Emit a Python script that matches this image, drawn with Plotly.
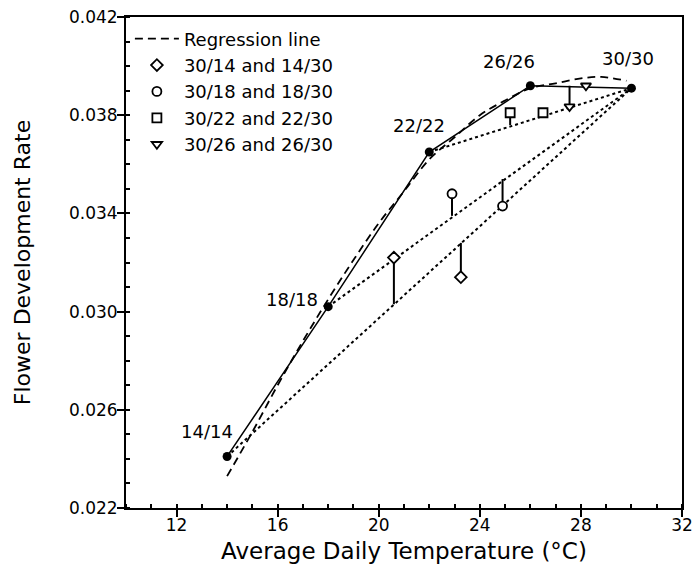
import plotly.graph_objects as go

# Equal day/night regimes (filled points, joined by solid line)
main_x = [14, 18, 22, 26, 30]
main_y = [0.0241, 0.0302, 0.0365, 0.0392, 0.0391]
main_labels = ["14/14", "18/18", "22/22", "26/26", "30/30"]
label_x = [13.2, 16.55, 21.6, 25.15, 29.85]
label_y = [0.0251, 0.0305, 0.0376, 0.0402, 0.0403]

# Regression line
reg_x = [14, 15, 16, 17, 18, 19, 20, 21, 22, 23, 24, 25, 26, 27, 28, 28.8, 29.8]
reg_y = [0.0233, 0.0251, 0.0270, 0.0288, 0.0305, 0.0321, 0.0336, 0.0349, 0.0362,
         0.0371, 0.0380, 0.0386, 0.0391, 0.0393, 0.0395, 0.03956, 0.0394]

# Alternating regimes: observed value and value on the connecting line
diam_x = [20.6, 23.25]
diam_y = [0.0322, 0.0314]
diam_ref = [0.0303, 0.0328]

circ_x = [22.9, 24.9]
circ_y = [0.0348, 0.0343]
circ_ref = [0.0339, 0.0354]

sq_x = [25.2, 26.5]
sq_y = [0.0381, 0.0381]
sq_ref = [0.0376, None]

tri_x = [27.55, 28.2]
tri_y = [0.03835, 0.0392]
tri_ref = [0.0392, None]

legend_names = ["Regression line", "30/14 and 14/30", "30/18 and 18/30",
                "30/22 and 22/30", "30/26 and 26/30"]

x_ticks = [12, 16, 20, 24, 28, 32]
y_ticks = [0.022, 0.026, 0.030, 0.034, 0.038, 0.042]

FONT = "DejaVu Sans"
fig = go.Figure()

# dotted connecting lines from 14/14, 18/18, 22/22 to 30/30
for i in range(3):
    fig.add_trace(go.Scatter(
        x=[main_x[i], main_x[-1]], y=[main_y[i], main_y[-1]], mode="lines",
        line=dict(color="black", width=2, dash="3px,3px"),
        showlegend=False, hoverinfo="skip"))

# vertical drop lines
dx, dy = [], []
for xs, ys, rs in [(diam_x, diam_y, diam_ref), (circ_x, circ_y, circ_ref),
                   (sq_x, sq_y, sq_ref), (tri_x, tri_y, tri_ref)]:
    for xv, yv, rv in zip(xs, ys, rs):
        if rv is not None:
            dx += [xv, xv, None]
            dy += [yv, rv, None]
fig.add_trace(go.Scatter(x=dx, y=dy, mode="lines",
                         line=dict(color="black", width=2),
                         showlegend=False, hoverinfo="skip"))

# regression line
fig.add_trace(go.Scatter(x=reg_x, y=reg_y, mode="lines", name=legend_names[0],
                         line=dict(color="black", width=1.8, dash="8px,5px", shape="spline")))

# solid line through equal regimes
fig.add_trace(go.Scatter(x=main_x, y=main_y, mode="lines+markers",
                         line=dict(color="black", width=1.5),
                         marker=dict(color="black", size=9, symbol="circle"),
                         showlegend=False))

for xs, ys, sym, nm in [(diam_x, diam_y, "diamond", legend_names[1]),
                        (circ_x, circ_y, "circle", legend_names[2]),
                        (sq_x, sq_y, "square", legend_names[3]),
                        (tri_x, tri_y, "triangle-down", legend_names[4])]:
    fig.add_trace(go.Scatter(x=xs, y=ys, mode="markers", name=nm,
                             marker=dict(symbol=sym, size=9, color="white",
                                         line=dict(color="black", width=1.8))))

for lx, ly, t in zip(label_x, label_y, main_labels):
    fig.add_annotation(x=lx, y=ly, text=t, showarrow=False,
                       font=dict(family=FONT, size=18, color="black"))

axis_common = dict(showline=True, linecolor="black", linewidth=2, mirror=True,
                   showgrid=False, zeroline=False, ticks="outside", ticklen=7,
                   tickwidth=1.5, tickcolor="black", automargin=False,
                   tickfont=dict(family=FONT, size=17, color="black"))

fig.update_xaxes(range=[10, 32], tickvals=x_ticks,
                 minor=dict(dtick=1, ticks="inside", ticklen=4, tickcolor="black", tickwidth=1.5),
                 title=dict(text="Average Daily Temperature (°C)",
                            font=dict(family=FONT, size=23, color="black"), standoff=8),
                 ticklabelstandoff=-6,
                 **axis_common)
fig.update_yaxes(range=[0.022, 0.042], tickvals=y_ticks, tickformat=".3f",
                 minor=dict(dtick=0.001, ticks="inside", ticklen=4, tickcolor="black", tickwidth=1.5),
                 title=dict(text="Flower Development Rate",
                            font=dict(family=FONT, size=22, color="black"), standoff=32),
                 ticklabelstandoff=-4,
                 **axis_common)

fig.update_layout(
    width=697, height=576,
    margin=dict(l=126, r=15, t=17, b=68),
    plot_bgcolor="white", paper_bgcolor="white",
    font=dict(family=FONT, color="black"),
    legend=dict(x=0.007, y=0.993, xanchor="left", yanchor="top",
                bgcolor="rgba(0,0,0,0)", font=dict(family=FONT, size=18, color="black"),
                itemwidth=44, tracegroupgap=0),
)

fig.write_html("out.html", config={"displayModeBar": False},
               post_script="document.body.style.margin='0';document.body.style.overflow='hidden';")
